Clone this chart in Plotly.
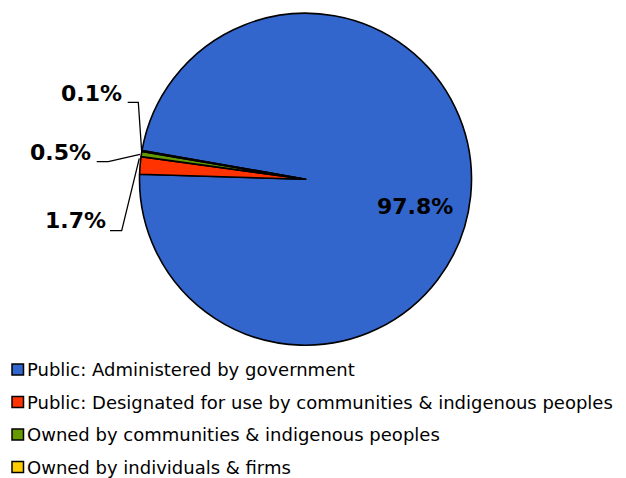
import plotly.graph_objects as go

# The page adds an 8px body margin, so the figure is drawn 8px smaller and
# all pixel positions below are reference-page pixels shifted by OFF.
OFF = 8
W, H = 626 - OFF, 478 - OFF

labels = [
    "Public: Administered by government",
    "Public: Designated for use by communities & indigenous peoples",
    "Owned by communities & indigenous peoples",
    "Owned by individuals & firms",
]
values = [97.8, 1.7, 0.5, 0.1]
colors = ["#3366CC", "#FF3300", "#669900", "#FFCC00"]

# label placement (reference pixels) for the value labels
label_pos = [(415, 206), (75, 220), (60, 152.5), (91.5, 93.5)]
# leader lines (reference pixels) for the small slices
leaders = [
    None,
    [(110, 230.7), (121.7, 230.7), (139.3, 158.3)],
    [(96.7, 161.7), (108.3, 161.7), (140, 154.3)],
    [(127.7, 102.3), (138.3, 102.3), (141.7, 151.7)],
]
legend_rows = [369.5, 402, 434.5, 467]


def px(x):
    return (x - OFF) / W


def py(y):
    return 1 - (y - OFF) / H


fig = go.Figure()
fig.add_trace(go.Pie(
    labels=labels,
    values=values,
    sort=False,
    direction="clockwise",
    rotation=280,
    marker=dict(colors=colors, line=dict(color="black", width=1.6)),
    textinfo="none",
    hoverinfo="label+percent",
    showlegend=False,
    domain=dict(x=[px(139.5), px(471.5)], y=[py(345.5), py(13)]),
))

annotations = []
shapes = []
for v, (lx, ly) in zip(values, label_pos):
    annotations.append(dict(
        x=px(lx), y=py(ly), xref="paper", yref="paper",
        text=f"{v:.1f}%", showarrow=False,
        xanchor="center", yanchor="middle",
        font=dict(family="DejaVu Sans", size=22, color="black", weight="bold"),
    ))
for pts in leaders:
    if pts is None:
        continue
    path = "M " + " L ".join(f"{px(x)},{py(y)}" for x, y in pts)
    shapes.append(dict(type="path", xref="paper", yref="paper", path=path,
                       line=dict(color="black", width=1.3)))

# legend
for lab, col, ry in zip(labels, colors, legend_rows):
    shapes.append(dict(type="rect", xref="paper", yref="paper",
                       x0=px(12), x1=px(23.5), y0=py(ry + 5.5), y1=py(ry - 5.5),
                       fillcolor=col, line=dict(color="black", width=1.5)))
    annotations.append(dict(
        x=px(25), y=py(ry), xref="paper", yref="paper",
        text=lab.replace("&", "&amp;"), showarrow=False,
        xanchor="left", yanchor="middle",
        font=dict(family="DejaVu Sans", size=18, color="black"),
    ))

fig.update_layout(
    width=W, height=H,
    margin=dict(l=0, r=0, t=0, b=0),
    paper_bgcolor="white",
    plot_bgcolor="white",
    annotations=annotations,
    shapes=shapes,
)

fig.write_html("out.html")
